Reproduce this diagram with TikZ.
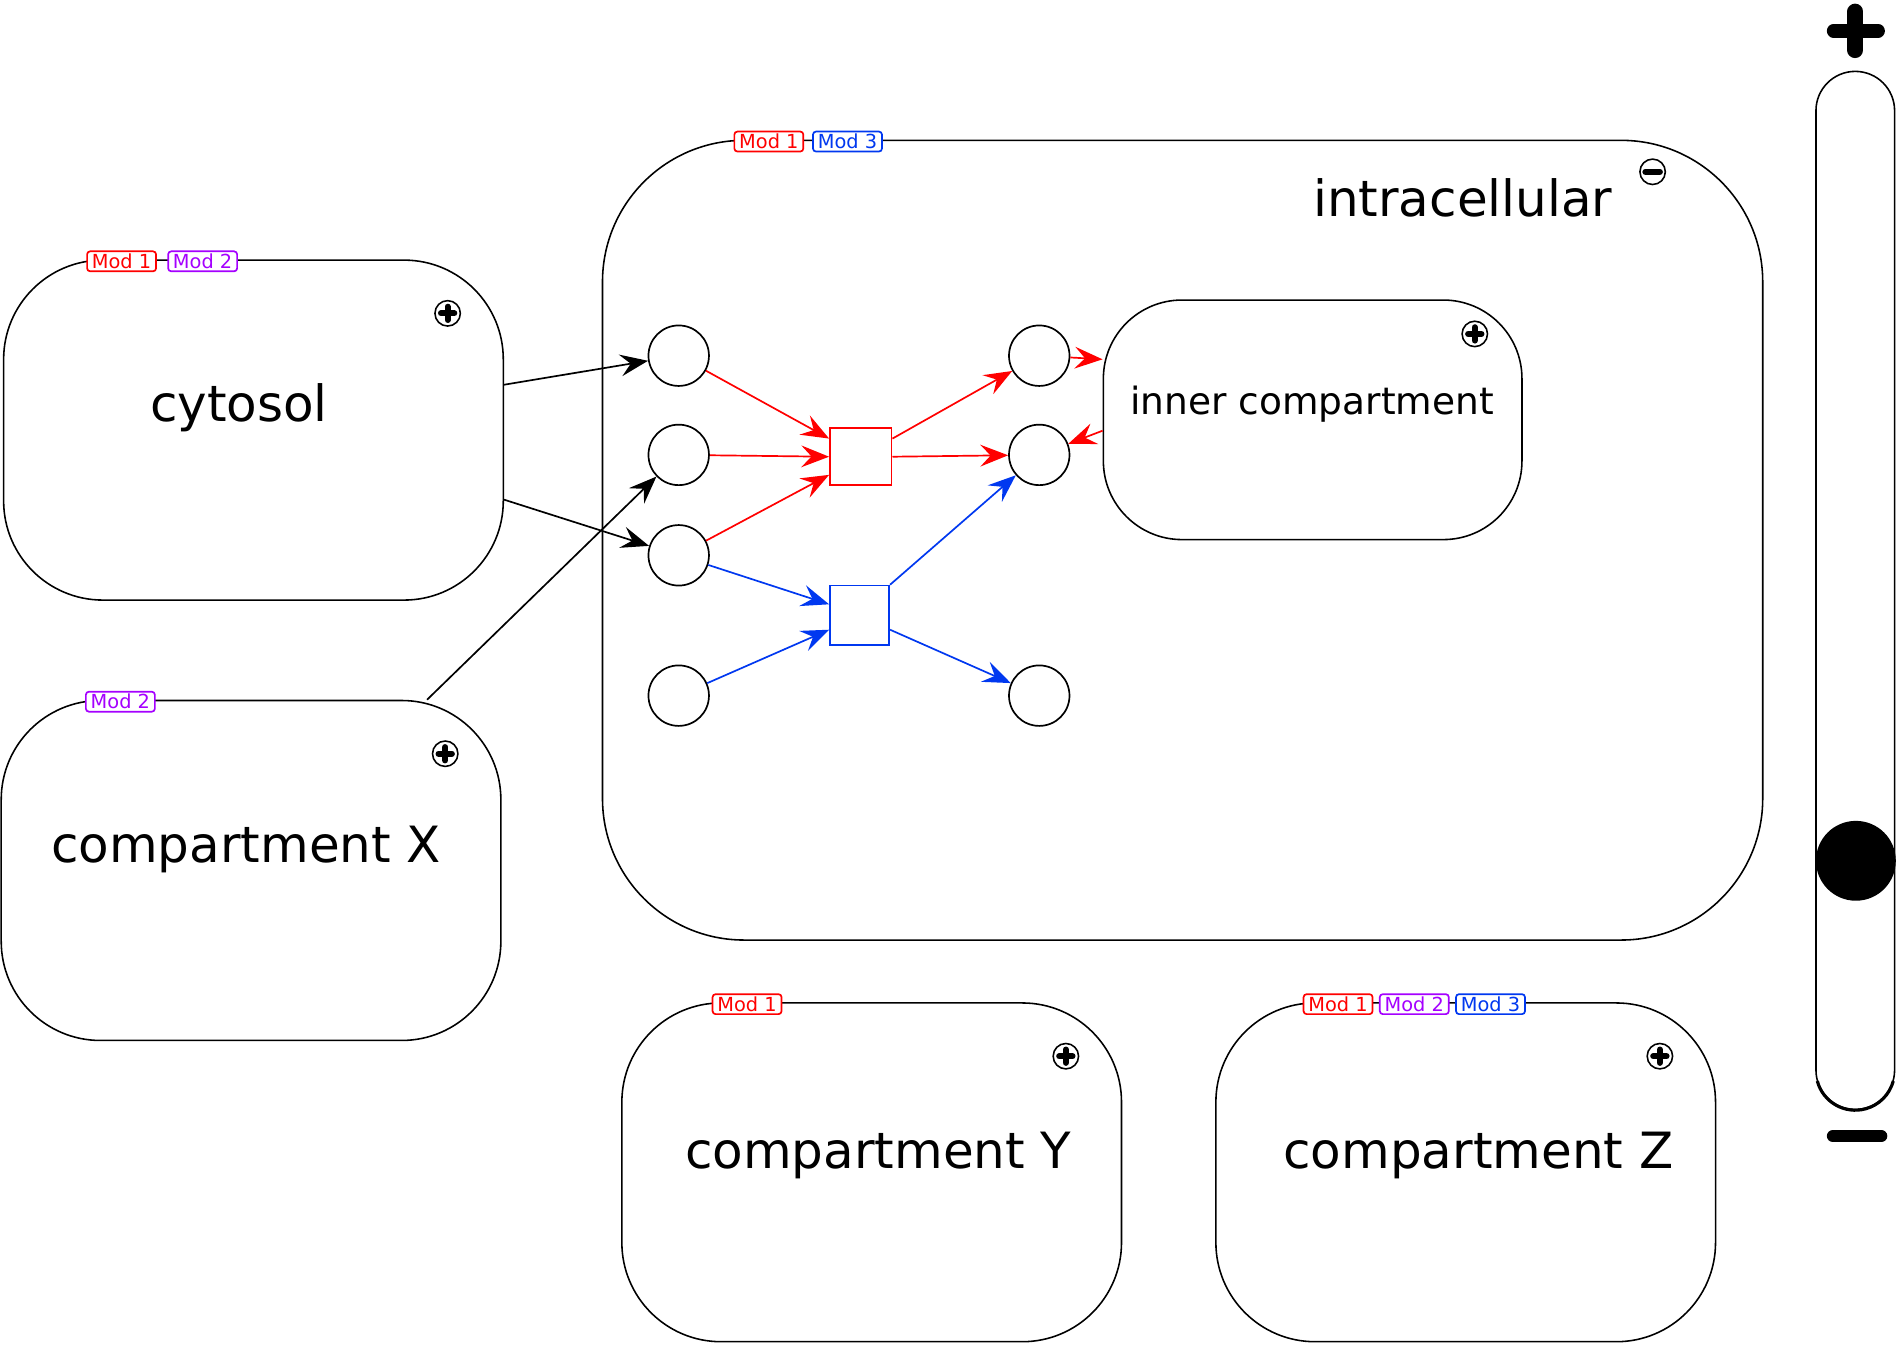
\documentclass[tikz,border=0pt]{standalone}
\usepackage{fontspec}
\setmainfont{DejaVu Sans}
\usetikzlibrary{arrows.meta}
\definecolor{mred}{RGB}{255,0,0}
\definecolor{mblue}{RGB}{0,56,240}
\definecolor{mpurple}{RGB}{165,0,255}
\begin{document}
\begin{tikzpicture}[x=1pt,y=-1pt,
  comp/.style={draw, line width=1.3pt, fill=white, inner sep=0pt},
  big/.style={font=\fontsize{41.3}{48}\selectfont, inner sep=0pt, anchor=base},
  mid/.style={font=\fontsize{31}{36}\selectfont, inner sep=0pt, anchor=base},
  tag/.style={draw=#1, text=#1, fill=white, line width=1.4pt, rounded corners=2.5pt,
    font=\fontsize{16}{18}\selectfont, inner xsep=4pt, inner ysep=0pt,
    minimum height=16.5pt, text height=11.7pt, text depth=0pt},
  species/.style={draw, circle, line width=1.4pt, minimum size=50pt, inner sep=0pt},
  proc/.style={draw=#1, line width=1.4pt, inner sep=0pt},
  conn/.style={draw=#1, line width=1.4pt, -{Stealth[length=23pt,width=18pt,inset=8.5pt]}},
  plusicon/.pic={
    \draw[line width=1.3pt, fill=white] (0,0) circle (10.5);
    \draw[line width=5pt, line cap=round] (-5.5,0) -- (5.5,0) (0,-5.5) -- (0,5.5);
  },
  minusicon/.pic={
    \draw[line width=1.3pt, fill=white] (0,0) circle (10.5);
    \draw[line width=5pt, line cap=round] (-6,0) -- (6,0);
  }
]
\useasboundingbox (0,0) rectangle (1568,1111);

% compartments
\node[comp, rounded corners=117pt, minimum width=959pt, minimum height=661pt] (intra) at (977.5,446.5) {};
\node[comp, rounded corners=82pt, minimum width=413pt, minimum height=281pt] (cyt) at (209.5,355.5) {};
\node[comp, rounded corners=82pt, minimum width=413pt, minimum height=281pt] (compX) at (207.5,719.5) {};
\node[comp, rounded corners=65pt, minimum width=346pt, minimum height=198pt] (inner) at (1085,347) {};
\node[comp, rounded corners=82pt, minimum width=413pt, minimum height=280pt] (compY) at (720.5,969) {};
\node[comp, rounded corners=82pt, minimum width=413pt, minimum height=280pt] (compZ) at (1211.5,969) {};

% labels
\node[big] (tcyt) at (197.5,348) {cytosol};
\node[big] (tcompX) at (203.5,713) {compartment X};
\node[big] (tintra) at (1209,179) {intracellular};
\node[mid] (tinner) at (1084.5,343) {inner compartment};
\node[big] (tcompY) at (726,966) {compartment Y};
\node[big] (tcompZ) at (1222,966) {compartment Z};

% icons
\pic (pcyt) at (370,259) {plusicon};
\pic (pcompX) at (368,623) {plusicon};
\pic (pinner) at (1219,276) {plusicon};
\pic (pcompY) at (881,873) {plusicon};
\pic (pcompZ) at (1372,873) {plusicon};
\pic (pintra) at (1366,142) {minusicon};

% tags
\node[tag=mred] (tcyt1) at (100.5,216) {Mod 1};
\node[tag=mpurple] (tcyt2) at (167.5,216) {Mod 2};
\node[tag=mpurple] (tx2) at (99.5,580) {Mod 2};
\node[tag=mred] (ti1) at (635.5,117) {Mod 1};
\node[tag=mblue] (ti3) at (700.5,117) {Mod 3};
\node[tag=mred] (ty1) at (617.5,830) {Mod 1};
\node[tag=mred] (tz1) at (1106,830) {Mod 1};
\node[tag=mpurple] (tz2) at (1169,830) {Mod 2};
\node[tag=mblue] (tz3) at (1232,830) {Mod 3};

% species
\node[species] (c1) at (561,294) {};
\node[species] (c2) at (561,376) {};
\node[species] (c3) at (561,459) {};
\node[species] (c4) at (561,575) {};
\node[species] (r1) at (859,294) {};
\node[species] (r2) at (859,376) {};
\node[species] (r3) at (859,575) {};

% processes
\node[proc=mred, minimum width=51pt, minimum height=47pt] (rsq) at (711.5,377.5) {};
\node[proc=mblue, minimum width=49pt, minimum height=49pt] (bsq) at (710.5,508.5) {};

% black connectors
\draw[conn=black] ([yshift=37.5pt]cyt.east) -- (c1);
\draw[conn=black] ([yshift=-57.5pt]cyt.east) -- (c3);
\draw[conn=black] ([xshift=145.5pt]compX.north) -- (c2);

% red connectors
\draw[conn=mred] (c1) -- ([yshift=15pt]rsq.west);
\draw[conn=mred] (c2) -- (rsq.west);
\draw[conn=mred] (c3) -- ([yshift=-15pt]rsq.west);
\draw[conn=mred] ([yshift=15pt]rsq.east) -- (r1);
\draw[conn=mred] (rsq.east) -- (r2);
\draw[conn=mred] (r1) -- ([yshift=50pt]inner.west);
\draw[conn=mred] ([yshift=-9pt]inner.west) -- (r2);

% blue connectors
\draw[conn=mblue] (c3) -- ([yshift=9pt]bsq.west);
\draw[conn=mblue] (c4) -- ([yshift=-12pt]bsq.west);
\draw[conn=mblue] (bsq.north east) -- (r2);
\draw[conn=mblue] ([yshift=-12pt]bsq.east) -- (r3);

% slider
\node[draw, line width=1.3pt, rounded corners=32.5pt, minimum width=65pt, minimum height=858pt, inner sep=0pt] (slider) at (1533.5,488) {};
\draw[line width=2.6pt] ([yshift=32.5pt]slider.south) ++(165:32.5) arc[start angle=165, end angle=15, radius=32.5];
\fill (1534,711.5) circle (33);
\draw[line width=11pt, line cap=round] (1515.5,25.5) -- (1552.5,25.5);
\draw[line width=13pt, line cap=round] (1533.5,9.5) -- (1533.5,41.5);
\draw[line width=10pt, line cap=round] (1515,939) -- (1555,939);
\end{tikzpicture}
\end{document}
